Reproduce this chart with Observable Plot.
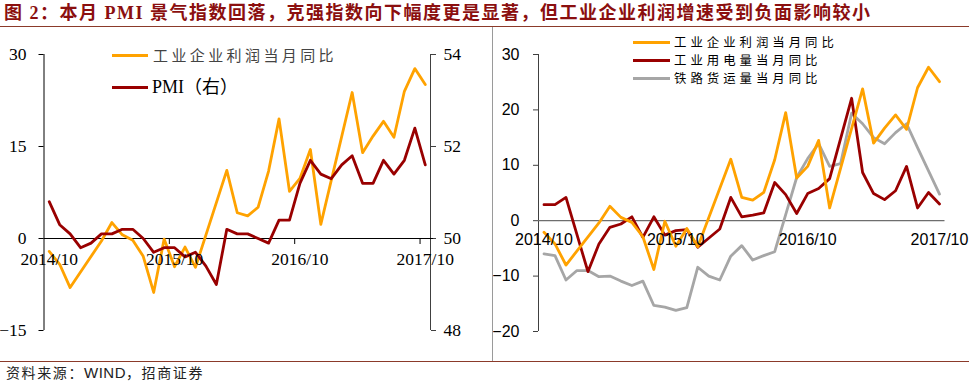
<!DOCTYPE html>
<html><head><meta charset="utf-8">
<script src="https://cdn.jsdelivr.net/npm/d3@7"></script>
<script src="https://cdn.jsdelivr.net/npm/@observablehq/plot@0.6"></script>
<style>
html,body{margin:0;padding:0;background:#fff;}
body{width:969px;height:382px;position:relative;overflow:hidden;font-family:"Noto Sans CJK SC",sans-serif;}
#title{position:absolute;left:4px;top:0px;font-weight:bold;font-size:18px;font-family:"Liberation Serif","Noto Sans CJK SC",serif;color:#8B0F0F;letter-spacing:1.5px;white-space:nowrap;line-height:26px;}
#topline{position:absolute;left:0;top:26px;width:969px;height:1px;background:#8B3A2A;}
#botline{position:absolute;left:0;top:361px;width:969px;height:1px;background:#8B3A2A;}
#sep{position:absolute;left:492px;top:27px;width:1px;height:334px;background:#9a9a9a;}
#left{position:absolute;left:0;top:27px;}
#right{position:absolute;left:493px;top:27px;}
#foot{position:absolute;left:6px;top:363px;font-size:14px;letter-spacing:1.6px;color:#222;white-space:nowrap;line-height:18px;}
#foot .w{font-family:"Liberation Sans",sans-serif;font-size:15px;letter-spacing:0.5px;}
.lg{position:absolute;white-space:nowrap;}
.sw{position:absolute;height:3px;}
</style>
</head><body>
<div id="title">图 2：本月 PMI 景气指数回落，克强指数向下幅度更是显著，但工业企业利润增速受到负面影响较小</div>
<div id="topline"></div>
<div id="sep"></div>
<div id="left"></div>
<div id="right"></div>
<div id="botline"></div>
<div id="foot">资料来源：<span class="w">WIND</span>，招商证券</div>
<div id="legends"></div>
<script>
// ---- data (monthly, 2014/10 .. 2017/10) ----
const months = ["2014/10","2014/11","2014/12","2015/01","2015/02","2015/03","2015/04","2015/05","2015/06","2015/07","2015/08","2015/09",
  "2015/10","2015/11","2015/12","2016/01","2016/02","2016/03","2016/04","2016/05","2016/06","2016/07","2016/08","2016/09",
  "2016/10","2016/11","2016/12","2017/01","2017/02","2017/03","2017/04","2017/05","2017/06","2017/07","2017/08","2017/09","2017/10"];
// 工业企业利润当月同比 (%)
const profit = [-2.1,-4.2,-8.0,null,null,-0.4,2.6,0.6,-0.3,-2.9,-8.8,-0.1,
  -4.6,-1.4,-4.7,null,null,11.1,4.2,3.7,5.1,11.0,19.5,7.7,
  9.8,14.5,2.3,null,null,23.8,14.0,16.7,19.1,16.5,24.0,27.7,25.1];
// PMI (right axis)
const pmi = [50.8,50.3,50.1,49.8,49.9,50.1,50.1,50.2,50.2,50.0,49.7,49.8,
  49.8,49.6,49.7,49.4,49.0,50.2,50.1,50.1,50.0,49.9,50.4,50.4,
  51.2,51.7,51.4,51.3,51.6,51.8,51.2,51.2,51.7,51.4,51.7,52.4,51.6];
// 工业用电量当月同比 (%)
const power = [2.9,2.9,4.2,null,-9.2,-4.2,-1.2,-0.6,0.7,-3.0,0.7,-2.6,
  -1.8,-1.6,-4.8,null,-1.5,4.2,0.7,1.0,1.4,6.9,4.7,1.3,
  4.9,5.8,7.6,null,22.1,8.7,4.9,3.8,5.4,9.8,2.3,5.1,3.0];
// 铁路货运量当月同比 (%)
const rail = [-6.0,-6.3,-10.7,-9.0,-9.0,-10.1,-10.0,-10.9,-11.7,-10.9,-15.3,-15.6,
  -16.2,-15.7,-8.4,-10.0,-10.7,-6.4,-4.5,-7.1,-6.3,-5.6,1.1,7.8,
  11.2,13.9,9.8,10.3,19.4,17.5,15.0,13.9,15.9,17.5,13.2,9.0,4.8];

const xLabels = ["2014/10","2015/10","2016/10","2017/10"];
const leftTicks = [-15, 0, 15, 30];
const pmiTicks = [48, 50, 52, 54];
const rightTicks = [-20, -10, 0, 10, 20, 30];
const names = {profit:"工业企业利润当月同比", pmi:"PMI（右）", power:"工业用电量当月同比", rail:"铁路货运量当月同比"};

const C_OR = "#FFA200", C_RD = "#990000", C_GR = "#A6A6A6";

const rows = months.map((m, i) => ({i, m, profit: profit[i], pmi: pmi[i], power: power[i], rail: rail[i]}));
const labelIdx = xLabels.map(l => months.indexOf(l));
const boundIdx = labelIdx.slice(1).map(i => i - 0.5);
const pmiToY = v => (v - 50) * 7.5;

const left = Plot.plot({
  width: 492, height: 335,
  marginLeft: 43.5, marginRight: 62, marginTop: 27, marginBottom: 32,
  x: {domain: [-0.5, 36.5], axis: null},
  y: {domain: [-15, 30], axis: null},
  style: {fontFamily: "Liberation Serif, serif", fontSize: "17.5px", color: "#000", background: "transparent"},
  marks: [
    Plot.ruleX([-0.5], {y1: -15, y2: 30, stroke: "#000"}),
    Plot.ruleX([36.5], {y1: -15, y2: 30, stroke: "#404040"}),
    Plot.axisY({anchor: "left", label: null, ticks: leftTicks, tickSize: 5, tickPadding: 12.5, stroke: "#000"}),
    Plot.axisY({anchor: "right", label: null, ticks: pmiTicks.map(pmiToY), tickFormat: (d, k) => String(pmiTicks[k]), tickSize: 5, tickPadding: 8, stroke: "#404040"}),
    Plot.ruleY([0], {x1: -0.5, x2: 36.8, stroke: "#000", strokeWidth: 1.2}),
    Plot.ruleX(boundIdx, {y1: 0, y2: 0, insetBottom: -6, stroke: "#000"}),
    Plot.line(rows.filter(d => d.profit != null), {x: "i", y: "profit", stroke: C_OR, strokeWidth: 2.8}),
    Plot.line(rows, {x: "i", y: d => pmiToY(d.pmi), stroke: C_RD, strokeWidth: 2.8}),
    Plot.text(labelIdx, {x: d => d, y: 0, text: d => months[d], dy: 21, fill: "#000"})
  ]
});
document.getElementById("left").appendChild(left);

const right = Plot.plot({
  width: 476, height: 335,
  marginLeft: 45, marginRight: 24.5, marginTop: 27, marginBottom: 31,
  x: {domain: [-0.5, 36.5], axis: null},
  y: {domain: [-20, 30], axis: null},
  style: {fontFamily: "Liberation Sans, sans-serif", fontSize: "16px", color: "#000", background: "transparent"},
  marks: [
    Plot.ruleX([-0.5], {y1: -20, y2: 30, stroke: "#404040"}),
    Plot.axisY({anchor: "left", label: null, ticks: rightTicks, tickSize: 5, tickPadding: 14, stroke: "#404040"}),
    Plot.ruleY([0], {stroke: "#6e6e6e", strokeWidth: 1.2}),
    Plot.line(rows.filter(d => d.rail != null), {x: "i", y: "rail", stroke: C_GR, strokeWidth: 2.8}),
    Plot.line(rows.filter(d => d.power != null), {x: "i", y: "power", stroke: C_RD, strokeWidth: 2.8}),
    Plot.line(rows.filter(d => d.profit != null), {x: "i", y: "profit", stroke: C_OR, strokeWidth: 2.8}),
    Plot.text(labelIdx, {x: d => d, y: 0, text: d => months[d], dy: 19, fill: "#000"})
  ]
});
document.getElementById("right").appendChild(right);

// legends
const legs = [
  {x1: 112, x2: 148, y: 55, tx: 153, color: C_OR, key: "profit", font: "15px 'Noto Sans CJK SC'", ls: 3.4, col: "#444"},
  {x1: 112, x2: 148, y: 87, tx: 152, color: C_RD, key: "pmi", font: "18px 'Liberation Serif','Noto Sans CJK SC'", ls: 0, col: "#000"},
  {x1: 633, x2: 670, y: 42, tx: 674, color: C_OR, key: "profit", font: "12.4px 'Noto Sans CJK SC'", ls: 4, col: "#000"},
  {x1: 633, x2: 670, y: 60, tx: 674, color: C_RD, key: "power", font: "12.4px 'Noto Sans CJK SC'", ls: 4, col: "#000"},
  {x1: 633, x2: 670, y: 78, tx: 674, color: C_GR, key: "rail", font: "12.4px 'Noto Sans CJK SC'", ls: 4, col: "#000"}
];
const lg = document.getElementById("legends");
for (const l of legs) {
  const s = document.createElement("div");
  s.className = "sw";
  s.style.cssText = `left:${l.x1}px;top:${l.y - 1.5}px;width:${l.x2 - l.x1}px;background:${l.color};`;
  lg.appendChild(s);
  const t = document.createElement("div");
  t.className = "lg";
  t.style.cssText = `left:${l.tx}px;top:${l.y - 8}px;font:${l.font};line-height:16px;letter-spacing:${l.ls}px;color:${l.col};`;
  t.textContent = names[l.key];
  lg.appendChild(t);
}
</script>
</body></html>
